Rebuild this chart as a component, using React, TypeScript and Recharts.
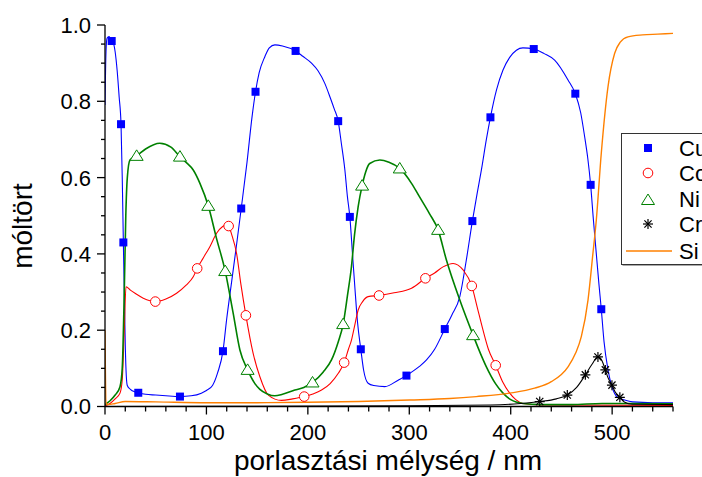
import React from 'react';
import { ComposedChart, Line, Scatter, XAxis, YAxis } from 'recharts';

// depth (nm) / mole fraction
const cuLine = [
  [0, 0.79], [1, 0.93], [2, 0.965], [4, 0.97], [6, 0.96], [8, 0.955], [10, 0.93], [12, 0.88], [14, 0.81],
  [15.8, 0.74], [17, 0.6], [18.1, 0.43], [19, 0.3], [20, 0.16], [21, 0.08], [22, 0.055], [25, 0.045],
  [30, 0.038], [32.8, 0.036], [40, 0.032], [50, 0.03], [60, 0.028], [73.9, 0.026], [85, 0.028], [95, 0.035],
  [100, 0.042], [106, 0.055], [111, 0.088], [116.3, 0.145], [120, 0.23], [125, 0.33], [130, 0.43],
  [134.3, 0.519], [140, 0.64], [145, 0.76], [148.4, 0.825], [152, 0.875], [157.6, 0.917], [162, 0.94],
  [167.5, 0.948], [175, 0.945], [187.9, 0.932], [195, 0.918], [203.6, 0.9], [210, 0.88], [216.7, 0.847],
  [222, 0.81], [226, 0.78], [229.9, 0.748], [233, 0.69], [236.5, 0.62], [239, 0.55], [241.4, 0.497],
  [244, 0.4], [246.3, 0.314], [249, 0.22], [252.2, 0.15], [255, 0.095], [259.4, 0.061], [265, 0.055],
  [275.9, 0.052], [289, 0.069], [297.2, 0.081], [300.5, 0.087], [310, 0.105], [317, 0.122], [325, 0.15],
  [335, 0.203], [342, 0.24], [349.8, 0.288], [356, 0.38], [362.2, 0.486], [367, 0.56], [371.1, 0.62],
  [376, 0.7], [380, 0.758], [386, 0.83], [392.4, 0.882], [399, 0.915], [405.6, 0.934], [412, 0.94],
  [422.7, 0.937], [433, 0.925], [443.3, 0.908], [456.5, 0.856], [463.7, 0.82], [469, 0.77], [472.9, 0.707],
  [476, 0.65], [478.8, 0.581], [481.5, 0.49], [484.4, 0.4], [487, 0.32], [489.3, 0.255], [492, 0.17],
  [495.9, 0.096], [500, 0.05], [505, 0.025], [512.3, 0.017], [520, 0.012], [540, 0.01], [560, 0.01],
];
const cuMarks = [
  [6.6, 0.958], [15.8, 0.74], [18.1, 0.43], [32.8, 0.036], [73.9, 0.026], [116.3, 0.145], [134.3, 0.519],
  [148.4, 0.825], [187.9, 0.932], [229.9, 0.748], [241.4, 0.497], [252.2, 0.15], [297.2, 0.081],
  [335, 0.203], [362.2, 0.486], [380, 0.758], [422.7, 0.937], [463.7, 0.82], [478.8, 0.581], [489.3, 0.255],
];

const coLine = [
  [0, 0.002], [5, 0.008], [10, 0.02], [14.8, 0.035], [17, 0.07], [19, 0.2], [20.7, 0.314], [25, 0.305],
  [30, 0.296], [37.7, 0.284], [49.6, 0.275], [60, 0.282], [70.6, 0.297], [80, 0.318], [87, 0.34],
  [90.9, 0.362], [97, 0.39], [103.4, 0.419], [110, 0.454], [116, 0.472], [119.9, 0.476], [121.9, 0.473],
  [125, 0.45], [129.8, 0.4], [134, 0.32], [138.9, 0.239], [146, 0.14], [152.7, 0.078], [161, 0.03],
  [174, 0.016], [185, 0.02], [196.4, 0.026], [205, 0.033], [213.5, 0.043], [222, 0.06], [230, 0.087],
  [235.8, 0.115], [240, 0.15], [243, 0.174], [246, 0.21], [249.6, 0.253], [254, 0.275], [259.4, 0.288],
  [270.2, 0.291], [285, 0.298], [302.2, 0.31], [315.9, 0.336], [325, 0.35], [333.3, 0.366], [343.2, 0.375],
  [353, 0.358], [361.6, 0.316], [367, 0.26], [372.7, 0.2], [378, 0.15], [385.2, 0.108], [392, 0.065],
  [399, 0.035], [405, 0.018], [412, 0.008], [430, 0.004], [560, 0.003],
];
const coMarks = [
  [49.6, 0.275], [90.9, 0.362], [121.9, 0.473], [138.9, 0.239], [196.4, 0.026], [235.8, 0.115],
  [270.2, 0.291], [315.9, 0.336], [361.6, 0.316], [385.2, 0.108],
];

const niLine = [
  [0, 0.005], [5, 0.015], [10, 0.03], [14.8, 0.052], [17, 0.1], [19, 0.3], [20.5, 0.5], [22, 0.6],
  [24.6, 0.646], [31.2, 0.657], [40, 0.675], [54, 0.69], [65, 0.68], [73.9, 0.655], [80, 0.64], [87, 0.62],
  [93.6, 0.585], [101.8, 0.526], [110, 0.44], [118.5, 0.355], [126.4, 0.244], [133, 0.148], [140.6, 0.096],
  [147.8, 0.06], [152.7, 0.045], [160, 0.033], [167.5, 0.028], [175, 0.032], [187.2, 0.043], [196, 0.05],
  [204.6, 0.063], [215, 0.09], [223.3, 0.122], [230, 0.17], [234.8, 0.216], [239, 0.29], [243, 0.367],
  [246, 0.45], [249.6, 0.524], [253.5, 0.579], [257, 0.615], [261, 0.637], [271, 0.646], [280, 0.64],
  [290.6, 0.624], [302.2, 0.585], [310, 0.55], [320, 0.505], [328.4, 0.463], [336.6, 0.384], [349.8, 0.279],
  [362.9, 0.187], [370, 0.14], [376, 0.104], [385, 0.06], [392.4, 0.035], [400, 0.018], [412, 0.008],
  [430, 0.005], [460, 0.005], [490, 0.008], [520, 0.008], [560, 0.007],
];
const niMarks = [
  [31.2, 0.657], [73.9, 0.655], [101.8, 0.526], [118.5, 0.355], [140.6, 0.096], [204.6, 0.063],
  [234.8, 0.216], [253.5, 0.579], [290.6, 0.624], [328.4, 0.463], [362.9, 0.187],
];

const crLine = [
  [0, 0], [300, 0.002], [380, 0.004], [410, 0.008], [428.6, 0.013], [445, 0.02], [455.8, 0.03], [465, 0.05],
  [473.6, 0.083], [480, 0.11], [486, 0.13], [490, 0.12], [493.3, 0.096], [496, 0.075], [499.8, 0.056],
  [503, 0.038], [507.6, 0.024], [512, 0.012], [520, 0.006], [560, 0.005],
];
const crMarks = [
  [428.6, 0.013], [455.8, 0.03], [473.6, 0.083], [486, 0.13], [493.3, 0.096], [499.8, 0.056], [507.6, 0.024],
];

const siLine = [
  [0, 0.2], [1, 0.01], [3, 0.005], [10, 0.008], [20, 0.013], [50, 0.012], [100, 0.01], [150, 0.01],
  [200, 0.011], [250, 0.013], [300.5, 0.017], [340, 0.021], [366, 0.026], [399, 0.035], [423.6, 0.048],
  [440, 0.065], [456.5, 0.104], [464, 0.14], [469.6, 0.183], [476.2, 0.279], [481, 0.4], [484.4, 0.489],
  [489.3, 0.664], [495.9, 0.838], [502.5, 0.926], [508, 0.955], [515.6, 0.969], [530, 0.974], [545, 0.976],
  [560, 0.978],
];

const xTicks = [0, 20, 40, 60, 80, 100, 120, 140, 160, 180, 200, 220, 240, 260, 280, 300, 320, 340, 360, 380,
  400, 420, 440, 460, 480, 500, 520, 540, 560];
const yTicks = [0, 0.05, 0.1, 0.15, 0.2, 0.25, 0.3, 0.35, 0.4, 0.45, 0.5, 0.55, 0.6, 0.65, 0.7, 0.75, 0.8,
  0.85, 0.9, 0.95, 1];
const legendNames = ['Cu', 'Co', 'Ni', 'Cr', 'Si'];

const FONT = "Arial, 'Liberation Sans', sans-serif";
const toPts = (arr: number[][]) => arr.map(([x, y]) => ({ x, y }));

const XTick = (props: any) => {
  const { x, y, payload } = props;
  const major = payload.value % 100 === 0;
  return (
    <g>
      <line x1={x} x2={x} y1={y} y2={y + (major ? 8 : 5)} stroke="#000" strokeWidth={1.3} />
      {major && (
        <text x={x} y={y + 33.5} textAnchor="middle" fontSize={22} fontFamily={FONT} fill="#000">
          {payload.value}
        </text>
      )}
    </g>
  );
};

const YTick = (props: any) => {
  const { x, y, payload } = props;
  const major = Math.round(payload.value * 100) % 20 === 0;
  return (
    <g>
      <line x1={x - (major ? 8 : 4)} x2={x} y1={y} y2={y} stroke="#000" strokeWidth={1.3} />
      {major && (
        <text x={x - 14} y={y} dy="0.36em" textAnchor="end" fontSize={22} fontFamily={FONT} fill="#000">
          {payload.value.toFixed(1)}
        </text>
      )}
    </g>
  );
};

const Square = ({ cx, cy }: any) => <rect x={cx - 4} y={cy - 4} width={8} height={8} fill="#0000FF" />;
const Circle = ({ cx, cy }: any) => <circle cx={cx} cy={cy} r={4.8} fill="#fff" stroke="#FF0000" strokeWidth={1} />;
const Triangle = ({ cx, cy }: any) => (
  <path d={`M${cx},${cy - 6} L${cx + 6.5},${cy + 4.5} L${cx - 6.5},${cy + 4.5} Z`} fill="#fff" stroke="#008000" strokeWidth={1} />
);
const Asterisk = ({ cx, cy }: any) => (
  <g stroke="#000" strokeWidth={1.2}>
    <line x1={cx - 5} x2={cx + 5} y1={cy} y2={cy} />
    <line x1={cx} x2={cx} y1={cy - 5} y2={cy + 5} />
    <line x1={cx - 3.6} x2={cx + 3.6} y1={cy - 3.6} y2={cy + 3.6} />
    <line x1={cx - 3.6} x2={cx + 3.6} y1={cy + 3.6} y2={cy - 3.6} />
  </g>
);

const legendY = [148, 173, 199, 224, 251];

export default function App() {
  return (
    <div style={{ position: 'absolute', left: 0, top: 0, width: 702, height: 477, overflow: 'hidden', background: '#fff' }}>
      <ComposedChart width={702} height={477} margin={{ top: 25, right: 29, bottom: 0, left: 0 }}>
        <XAxis
          type="number"
          dataKey="x"
          domain={[0, 560]}
          ticks={xTicks}
          interval={0}
          tickSize={0}
          tickMargin={0}
          tick={<XTick />}
          height={70.5}
          stroke="#000"
          strokeWidth={1.3}
          allowDataOverflow
        />
        <YAxis
          type="number"
          domain={[0, 1]}
          ticks={yTicks}
          interval={0}
          tickSize={0}
          tickMargin={0}
          tick={<YTick />}
          width={105}
          stroke="#000"
          strokeWidth={1.3}
          allowDataOverflow
        />
        <Line data={toPts(cuLine)} dataKey="y" type="monotone" stroke="#0000FF" strokeWidth={1.1} dot={false} activeDot={false} isAnimationActive={false} />
        <Line data={toPts(coLine)} dataKey="y" type="monotone" stroke="#FF0000" strokeWidth={1.1} dot={false} activeDot={false} isAnimationActive={false} />
        <Line data={toPts(niLine)} dataKey="y" type="monotone" stroke="#008000" strokeWidth={1.6} dot={false} activeDot={false} isAnimationActive={false} />
        <Line data={toPts(crLine)} dataKey="y" type="monotone" stroke="#000000" strokeWidth={1.1} dot={false} activeDot={false} isAnimationActive={false} />
        <Line data={toPts(siLine)} dataKey="y" type="monotone" stroke="#FF8000" strokeWidth={1.4} dot={false} activeDot={false} isAnimationActive={false} />
        <Scatter data={toPts(cuMarks)} dataKey="y" shape={<Square />} isAnimationActive={false} />
        <Scatter data={toPts(coMarks)} dataKey="y" shape={<Circle />} isAnimationActive={false} />
        <Scatter data={toPts(niMarks)} dataKey="y" shape={<Triangle />} isAnimationActive={false} />
        <Scatter data={toPts(crMarks)} dataKey="y" shape={<Asterisk />} isAnimationActive={false} />
      </ComposedChart>

      <svg width={702} height={477} style={{ position: 'absolute', left: 0, top: 0, pointerEvents: 'none' }} fontFamily={FONT}>
        <text transform="translate(32,226) rotate(-90)" textAnchor="middle" fontSize={28} fill="#000">móltört</text>
        <text x={388} y={470} textAnchor="middle" fontSize={28} fill="#000">porlasztási mélység / nm</text>

        <rect x={622.5} y={134.5} width={120} height={131} fill="#555" />
        <rect x={621.5} y={133.5} width={120} height={131} fill="#fff" stroke="#333" strokeWidth={1} />
        <Square cx={648} cy={legendY[0]} />
        <Circle cx={648} cy={legendY[1]} />
        <Triangle cx={648} cy={legendY[2] + 1} />
        <Asterisk cx={648} cy={legendY[3]} />
        <line x1={626} x2={672} y1={legendY[4]} y2={legendY[4]} stroke="#FF8000" strokeWidth={1.4} />
        {legendNames.map((n, i) => (
          <text key={n} x={679} y={legendY[i] + 8} fontSize={22} fill="#000">{n}</text>
        ))}
      </svg>
    </div>
  );
}
